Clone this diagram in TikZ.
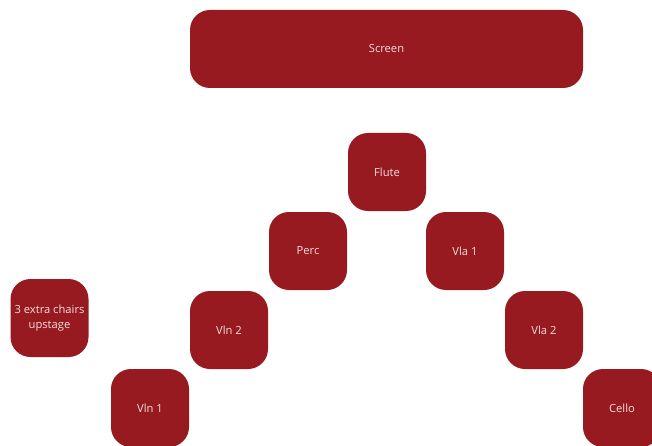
\documentclass[tikz,border=0pt]{standalone}
\usepackage{fontspec}
\setmainfont{Open Sans}
\definecolor{boxred}{HTML}{961A1F}
\definecolor{boxtext}{HTML}{F3DEDE}
\begin{document}
\begin{tikzpicture}[x=1pt,y=-1pt,
  seat/.style={fill=boxred, rounded corners=20pt, minimum width=78pt, minimum height=78pt,
    inner sep=0pt, text=boxtext, font=\fontsize{11.2}{15}\selectfont, align=center}]
\useasboundingbox (0,0) rectangle (652,446);
\clip (0,0) rectangle (652,446);
\node[seat, minimum width=393pt] (screen) at (386.5,49) {Screen};
\node[seat] (flute) at (387,172) {Flute};
\node[seat] (perc) at (308,251) {Perc};
\node[seat] (vla1) at (465,251) {Vla 1};
\node[seat] (vln2) at (229,330) {Vln 2};
\node[seat] (vla2) at (544,330) {Vla 2};
\node[seat] (vln1) at (150,408) {Vln 1};
\node[seat] (cello) at (622,408) {Cello};
\node[seat] (chairs) at (49.5,318) {3 extra chairs\\upstage};
\end{tikzpicture}
\end{document}
